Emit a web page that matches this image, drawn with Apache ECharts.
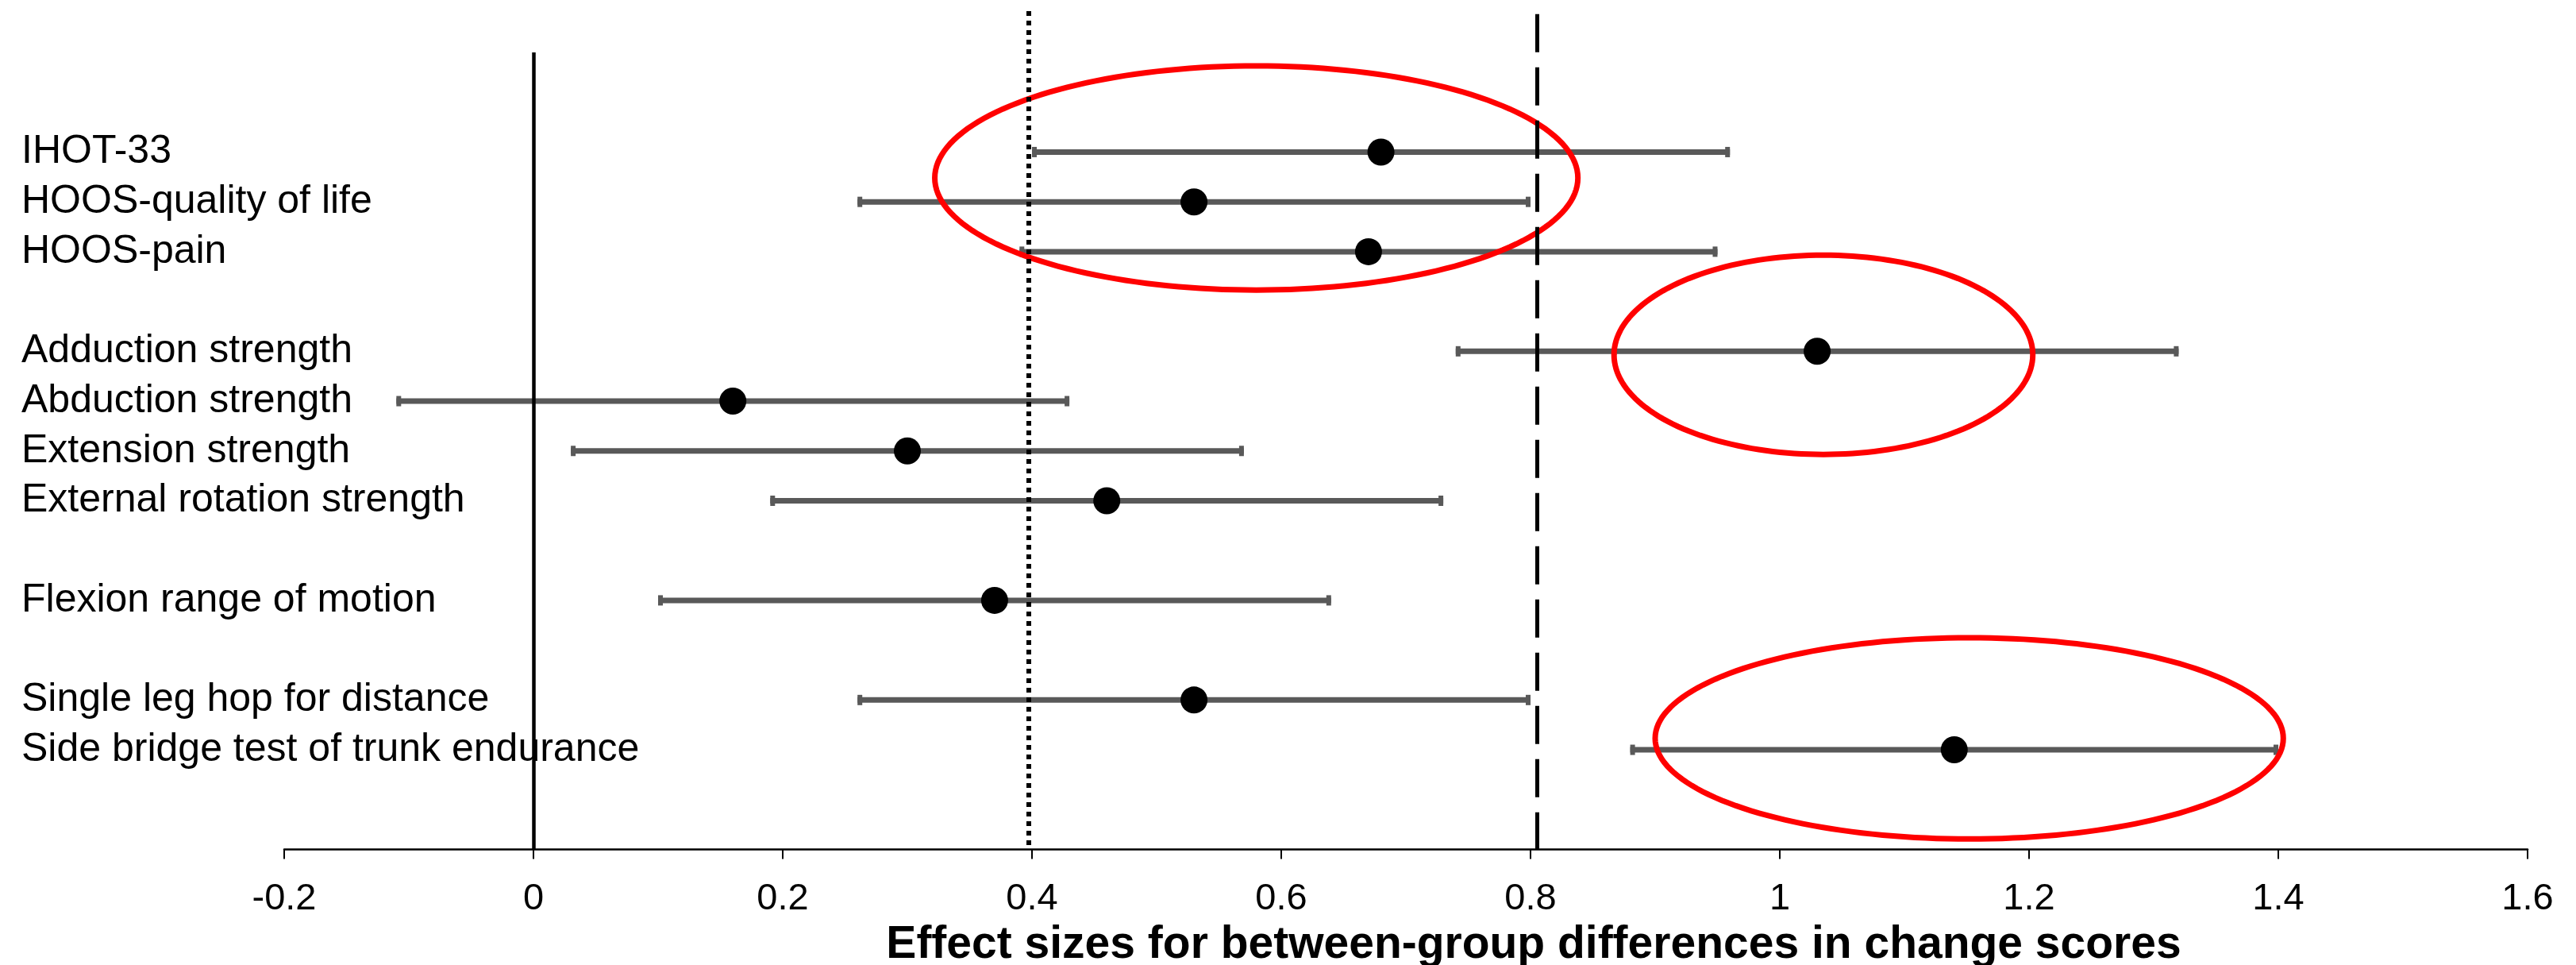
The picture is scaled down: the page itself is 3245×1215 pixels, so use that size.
<!DOCTYPE html>
<html>
<head>
<meta charset="utf-8">
<title>Effect sizes</title>
<script src="https://cdn.jsdelivr.net/npm/echarts@6/dist/echarts.min.js"></script>
<style>
  html, body { margin: 0; padding: 0; background: #fff; }
  #chart { width: 3245px; height: 1215px; }
</style>
</head>
<body>
<div id="chart"></div>
<script>
// outcomes, top to bottom
const outcomes = [
  'IHOT-33',
  'HOOS-quality of life',
  'HOOS-pain',
  'Adduction strength',
  'Abduction strength',
  'Extension strength',
  'External rotation strength',
  'Flexion range of motion',
  'Single leg hop for distance',
  'Side bridge test of trunk endurance'
];
// how many outcomes sit in each block (one blank row between blocks)
const groupSizes = [3, 4, 1, 2];

const effectSize = [0.68, 0.53, 0.67, 1.03, 0.16, 0.30, 0.46, 0.37, 0.53, 1.14];
const ciLow      = [0.40, 0.26, 0.39, 0.74, -0.11, 0.03, 0.19, 0.10, 0.26, 0.88];
const ciHigh     = [0.96, 0.80, 0.95, 1.32, 0.43, 0.57, 0.73, 0.64, 0.80, 1.40];

const xTicks = [-0.2, 0, 0.2, 0.4, 0.6, 0.8, 1, 1.2, 1.4, 1.6];

// thresholds: small / large effect
const smallEffect = 0.397;
const largeEffect = 0.805;

// row number of each outcome on the (hidden) y axis
const rows = [];
let r = 2;
groupSizes.forEach((n) => {
  for (let k = 0; k < n; k++) rows.push(r++);
  r++;
});
const rowLabel = {};
rows.forEach((row, i) => { rowLabel[row] = outcomes[i]; });

// red rings drawn on top (centre x, centre row, radius x, radius rows)
const highlightEllipses = [
  [0.580, 2.52, 0.258, 2.25],
  [1.035, 6.07, 0.168, 2.0],
  [1.152, 13.77, 0.252, 2.02]
];

const FONT = 'Liberation Sans, Arial, sans-serif';
const chart = echarts.init(document.getElementById('chart'));

chart.setOption({
  backgroundColor: '#fff',
  animation: false,
  grid: { left: 358, right: 61, top: 3.3, bottom: 145.5, outerBoundsMode: 'none' },
  xAxis: {
    type: 'value',
    min: xTicks[0],
    max: xTicks[xTicks.length - 1],
    interval: 0.2,
    splitLine: { show: false },
    axisLine: { onZero: false, lineStyle: { color: '#000', width: 2.5 } },
    axisTick: { show: true, length: 12, lineStyle: { color: '#000', width: 2 } },
    axisLabel: {
      color: '#000', fontSize: 47, fontFamily: FONT,
      margin: 39, verticalAlign: 'top',
      formatter: (v) => String(Math.round(v * 10) / 10)
    }
  },
  yAxis: {
    type: 'value',
    inverse: true,
    min: -1,
    max: 16,
    interval: 1,
    splitLine: { show: false },
    axisLine: { show: false },
    axisTick: { show: false },
    axisLabel: {
      color: '#000', fontSize: 50, fontFamily: FONT,
      align: 'left', margin: 331,
      formatter: (v) => rowLabel[v] || ''
    }
  },
  graphic: [{
    type: 'text',
    x: 1932,
    y: 1190,
    style: {
      text: 'Effect sizes for between-group differences in change scores',
      fill: '#000',
      font: 'bold 57px ' + FONT,
      textAlign: 'center', textVerticalAlign: 'middle',
      align: 'center', verticalAlign: 'middle'
    }
  }],
  series: [
    {
      // confidence intervals
      type: 'custom',
      z: 2,
      encode: { x: [0, 1], y: 2 },
      data: outcomes.map((_, i) => [ciLow[i], ciHigh[i], rows[i]]),
      renderItem: (params, api) => {
        const a = api.coord([api.value(0), api.value(2)]);
        const b = api.coord([api.value(1), api.value(2)]);
        return {
          type: 'group',
          children: [
            { type: 'line', shape: { x1: a[0], y1: a[1], x2: b[0], y2: b[1] },
              style: { stroke: '#595959', lineWidth: 7 } },
            { type: 'rect', shape: { x: a[0], y: a[1] - 6.5, width: 6, height: 13 },
              style: { fill: '#595959' } },
            { type: 'rect', shape: { x: b[0] - 6, y: b[1] - 6.5, width: 6, height: 13 },
              style: { fill: '#595959' } }
          ]
        };
      }
    },
    {
      // zero line + reference lines
      type: 'line',
      z: 3,
      data: [],
      markLine: {
        silent: true,
        symbol: ['none', 'none'],
        label: { show: false },
        data: [
          [{ coord: [0, 0], lineStyle: { color: '#000', width: 4.5, type: 'solid' } }, { coord: [0, 16] }],
          [{ coord: [smallEffect, -0.83], lineStyle: { color: '#000', width: 6, type: [6, 6] } }, { coord: [smallEffect, 16] }],
          [{ coord: [largeEffect, -0.77], lineStyle: { color: '#000', width: 5, type: [48, 19] } }, { coord: [largeEffect, 16] }]
        ]
      }
    },
    {
      type: 'custom',
      z: 4,
      encode: { x: 0, y: 1 },
      data: highlightEllipses,
      renderItem: (params, api) => {
        const c = api.coord([api.value(0), api.value(1)]);
        const s = api.size([api.value(2), api.value(3)]);
        const rx = Math.abs(s[0]);
        const ry = Math.abs(s[1]);
        const pts = [];
        for (let k = 0; k < 180; k++) {
          const t = k / 180 * Math.PI * 2;
          pts.push([c[0] + rx * Math.cos(t), c[1] + ry * Math.sin(t)]);
        }
        return {
          type: 'polygon',
          shape: { points: pts },
          style: { fill: 'none', stroke: '#ff0000', lineWidth: 7 }
        };
      }
    },
    {
      // point estimates
      type: 'scatter',
      z: 5,
      symbol: 'circle',
      symbolSize: 34,
      itemStyle: { color: '#000', opacity: 1 },
      data: outcomes.map((_, i) => [effectSize[i], rows[i]])
    }
  ]
});
</script>
</body>
</html>
